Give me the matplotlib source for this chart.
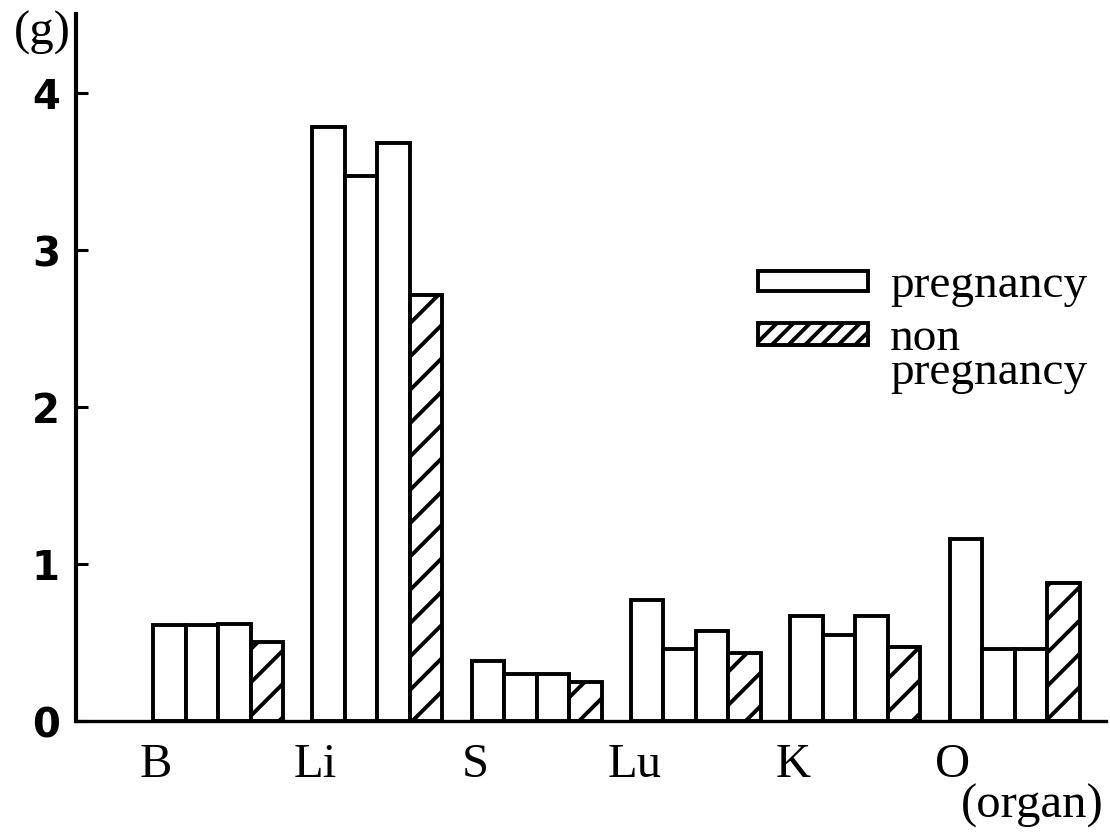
import matplotlib
matplotlib.use("Agg")
import matplotlib.pyplot as plt
from matplotlib.patches import Rectangle
import numpy as np

# ---- data ----
organs = ["B", "Li", "S", "Lu", "K", "O"]
pregnancy_1 = [0.61, 3.78, 0.38, 0.77, 0.67, 1.16]
pregnancy_2 = [0.61, 3.47, 0.30, 0.46, 0.55, 0.46]
pregnancy_3 = [0.62, 3.68, 0.30, 0.57, 0.67, 0.46]
non_pregnancy = [0.50, 2.71, 0.25, 0.43, 0.47, 0.88]
y_ticks = [0, 1, 2, 3, 4]

DPI = 200
plt.rcParams['hatch.linewidth'] = 1.4
fig = plt.figure(figsize=(1110 / DPI, 837 / DPI), dpi=DPI)
ax = fig.add_axes([76 / 1110, (837 - 722) / 837, (1106 - 76) / 1110, (722 - 15) / 837])

serif = "Liberation Serif"

w = 0.204
x = np.arange(len(organs))
kw = dict(width=w, align='edge', edgecolor='black', linewidth=1.4)
ax.bar(x, pregnancy_1, color='white', **kw)
ax.bar(x + w, pregnancy_2, color='white', **kw)
ax.bar(x + 2 * w, pregnancy_3, color='white', **kw)
ax.bar(x + 3 * w, non_pregnancy, color='white', hatch='//', **kw)

ax.set_xlim(-0.4834, 5.982)
ax.set_ylim(0, 4.5)

for s in ['top', 'right']:
    ax.spines[s].set_visible(False)
ax.spines['left'].set_linewidth(1.5)
ax.spines['bottom'].set_linewidth(1.2)

ax.set_yticks(y_ticks)
ax.set_yticklabels([str(t) for t in y_ticks], fontsize=14.5, fontweight='bold',
                   family='DejaVu Sans')
ax.tick_params(axis='y', direction='in', length=4.3, width=1.1, pad=5.8)

ax.set_xticks(x + 0.02)
ax.set_xticklabels(organs, fontsize=17.5, family=serif)
ax.tick_params(axis='x', length=0, pad=7.5)

fig.text(42 / 1110, 1 - 33 / 837, "(g)", fontsize=17.5, family=serif,
         ha='center', va='center')
fig.text(1032 / 1110, 1 - 806 / 837, "(organ)", fontsize=17.5, family=serif,
         ha='center', va='center')

# legend
fig.patches.append(Rectangle((758 / 1110, (837 - 292) / 837), 110 / 1110, 20 / 837,
                             transform=fig.transFigure, facecolor='white',
                             edgecolor='black', linewidth=1.4))
fig.patches.append(Rectangle((758 / 1110, (837 - 346) / 837), 110 / 1110, 22 / 837,
                             transform=fig.transFigure, facecolor='white',
                             edgecolor='black', linewidth=1.4, hatch='////'))
fig.text(890 / 1110, (837 - 297) / 837, "pregnancy", fontsize=17, family=serif,
         ha='left', va='baseline')
fig.text(890 / 1110, (837 - 384) / 837, "non\npregnancy", fontsize=17, family=serif,
         ha='left', va='baseline', linespacing=0.75)

fig.savefig("out.png", dpi=DPI)
